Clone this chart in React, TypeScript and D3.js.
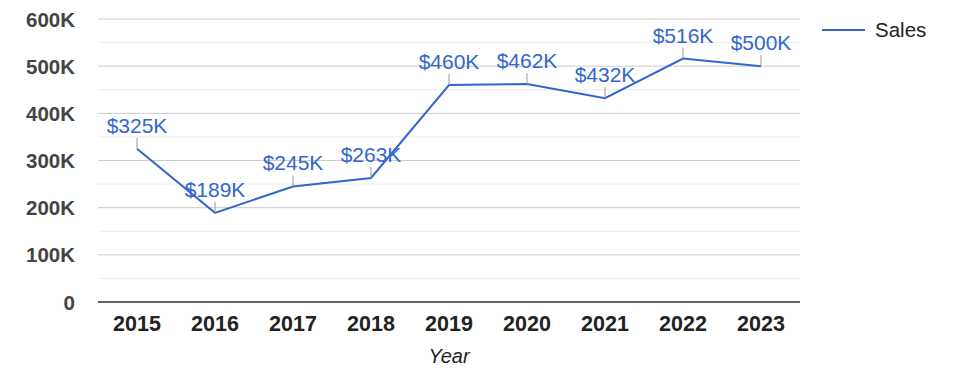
import React from "react";
import * as d3 from "d3";

const years = ["2015", "2016", "2017", "2018", "2019", "2020", "2021", "2022", "2023"];
const sales = [325, 189, 245, 263, 460, 462, 432, 516, 500];
const yTicks = [0, 100, 200, 300, 400, 500, 600];
const minorTicks = [50, 150, 250, 350, 450, 550];
const seriesName = "Sales";
const xTitle = "Year";

const W = 975;
const H = 378;
const left = 98;
const right = 800;
const top = 19;
const bottom = 302;
const blue = "#3366cc";

export default function App() {
  const x = d3.scaleBand().domain(years).range([left, right]);
  const y = d3.scaleLinear().domain([0, 600]).range([bottom, top]);
  const cx = (d: string) => (x(d) as number) + x.bandwidth() / 2;
  const line = d3
    .line<number>()
    .x((_, i) => cx(years[i]))
    .y((d) => y(d));

  return (
    <svg width={W} height={H} style={{ position: "absolute", left: 0, top: 0 }}
      fontFamily="Arial, 'Liberation Sans', sans-serif">
      <rect width={W} height={H} fill="#fff" />
      {minorTicks.map((t) => (
        <line key={"m" + t} x1={left} x2={right} y1={y(t)} y2={y(t)} stroke="#ebebeb" strokeWidth={1} />
      ))}
      {yTicks.filter((t) => t !== 0).map((t) => (
        <line key={"g" + t} x1={left} x2={right} y1={y(t)} y2={y(t)} stroke="#cccccc" strokeWidth={1} />
      ))}
      {yTicks.map((t) => (
        <text key={"y" + t} x={75} y={y(t) + 7.5} textAnchor="end" fontSize={20.5} fontWeight="bold" fill="#444">
          {t === 0 ? "0" : `${t}K`}
        </text>
      ))}
      <line x1={left} x2={right} y1={bottom} y2={bottom} stroke="#333" strokeWidth={1.5} />
      {years.map((yr) => (
        <text key={yr} x={cx(yr)} y={331} textAnchor="middle" fontSize={21.5} fontWeight="bold" fill="#222">
          {yr}
        </text>
      ))}
      <text x={(left + right) / 2} y={363} textAnchor="middle" fontSize={20} fontStyle="italic" fill="#222">
        {xTitle}
      </text>
      <path d={line(sales) || ""} fill="none" stroke={blue} strokeWidth={2} />
      {sales.map((v, i) => (
        <g key={"l" + i}>
          <line x1={cx(years[i])} x2={cx(years[i])} y1={y(v)} y2={y(v) - 11} stroke="#999" strokeWidth={1} />
          <text x={cx(years[i])} y={y(v) - 16} textAnchor="middle" fontSize={21} fill={blue}>
            {`$${v}K`}
          </text>
        </g>
      ))}
      <line x1={822} x2={865} y1={30} y2={30} stroke={blue} strokeWidth={2} />
      <text x={875} y={37} fontSize={20.5} fill="#222">{seriesName}</text>
    </svg>
  );
}
